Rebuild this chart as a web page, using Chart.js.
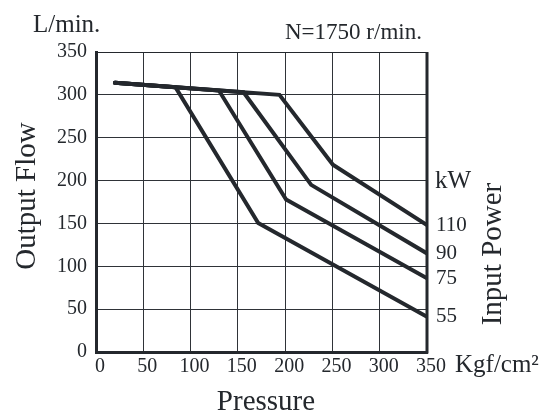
<!DOCTYPE html>
<html>
<head>
<meta charset="utf-8">
<script src="https://cdn.jsdelivr.net/npm/chart.js@4/dist/chart.umd.min.js"></script>
<style>
html,body{margin:0;padding:0;background:#fff;}
canvas{display:block;}
</style>
</head>
<body>
<canvas id="c" width="555" height="417"></canvas>
<script>
// Pressure (Kgf/cm²) vs Output Flow (L/min.) for each input power curve
const powerLabels = ["55", "75", "90", "110"];
const pressure55 = [20, 84, 171.5, 350];
const flow55 = [314, 309, 150.5, 41];
const pressure75 = [20, 130, 201, 350];
const flow75 = [314, 305, 178, 86];
const pressure90 = [20, 156, 227.5, 350];
const flow90 = [314, 303, 195, 115];
const pressure110 = [20, 194, 250.5, 350];
const flow110 = [314, 300, 218.5, 148];
const xTicks = [0, 50, 100, 150, 200, 250, 300, 350];
const yTicks = [0, 50, 100, 150, 200, 250, 300, 350];

const INK = '#24282d';
const FONT = '"Liberation Serif", "Times New Roman", serif';

const seriesX = [pressure55, pressure75, pressure90, pressure110];
const seriesY = [flow55, flow75, flow90, flow110];

const datasets = powerLabels.map((lbl, i) => ({
  label: lbl + ' kW',
  data: seriesX[i].map((x, j) => ({x: x, y: seriesY[i][j]})),
  showLine: true,
  borderColor: INK,
  backgroundColor: INK,
  borderWidth: 4,
  pointRadius: 0,
  fill: false,
  tension: 0,
  borderCapStyle: 'round',
  borderJoinStyle: 'miter'
}));

const textPlugin = {
  id: 'texts',
  afterDraw(chart) {
    const ctx = chart.ctx;
    const a = chart.chartArea;
    const ys = chart.scales.y;
    ctx.save();
    // frame: thick right edge, thin top edge
    ctx.strokeStyle = INK;
    ctx.lineWidth = 3;
    ctx.beginPath();
    ctx.moveTo(a.right, a.top);
    ctx.lineTo(a.right, a.bottom + 1.5);
    ctx.stroke();
    ctx.lineWidth = 1.2;
    ctx.beginPath();
    ctx.moveTo(a.left, a.top + 0.5);
    ctx.lineTo(a.right, a.top + 0.5);
    ctx.stroke();

    ctx.fillStyle = INK;
    ctx.textAlign = 'left';
    ctx.textBaseline = 'alphabetic';
    ctx.font = '25px ' + FONT;
    ctx.fillText('L/min.', 33, 31.5);
    ctx.font = '23px ' + FONT;
    ctx.fillText('N=1750 r/min.', 285, 39);
    ctx.font = '25px ' + FONT;
    ctx.fillText('kW', 435, 188);
    ctx.fillText('Kgf/cm²', 455, 372);

    // power labels at the line ends
    ctx.font = '21px ' + FONT;
    ctx.textBaseline = 'middle';
    powerLabels.forEach((lbl, i) => {
      const yv = seriesY[i][seriesY[i].length - 1];
      ctx.fillText(lbl, a.right + 9, ys.getPixelForValue(yv));
    });

    ctx.font = '29px ' + FONT;
    ctx.textBaseline = 'alphabetic';
    ctx.textAlign = 'center';
    ctx.fillText('Pressure', 266, 410);

    ctx.save();
    ctx.translate(35, 196);
    ctx.rotate(-Math.PI / 2);
    ctx.fillText('Output Flow', 0, 0);
    ctx.restore();

    ctx.save();
    ctx.translate(501, 254);
    ctx.rotate(-Math.PI / 2);
    ctx.fillText('Input Power', 0, 0);
    ctx.restore();

    ctx.restore();
  }
};

new Chart(document.getElementById('c'), {
  type: 'scatter',
  data: { datasets },
  options: {
    responsive: false,
    animation: false,
    devicePixelRatio: 1,
    layout: { padding: { left: 0, top: 52, right: 128, bottom: 0 } },
    plugins: { legend: { display: false }, tooltip: { enabled: false }, title: { display: false } },
    scales: {
      x: {
        type: 'linear',
        min: 0, max: 350,
        afterBuildTicks(scale) { scale.ticks = xTicks.map(v => ({value: v})); },
        afterFit(scale) { scale.height = 65; },
        grid: { color: '#2f3338', lineWidth: 1, drawTicks: false },
        border: { display: true, color: INK, width: 3 },
        ticks: {
          color: INK,
          font: { family: FONT, size: 20 },
          padding: 3,
          labelOffset: 4,
          maxRotation: 0,
          autoSkip: false
        }
      },
      y: {
        type: 'linear',
        min: 0, max: 350,
        afterBuildTicks(scale) { scale.ticks = yTicks.map(v => ({value: v})); },
        afterFit(scale) { scale.width = 96; },
        grid: { color: '#2f3338', lineWidth: 1, drawTicks: false },
        border: { display: true, color: INK, width: 3 },
        ticks: {
          color: INK,
          font: { family: FONT, size: 20 },
          padding: 9,
          autoSkip: false
        }
      }
    }
  },
  plugins: [textPlugin]
});
</script>
</body>
</html>
